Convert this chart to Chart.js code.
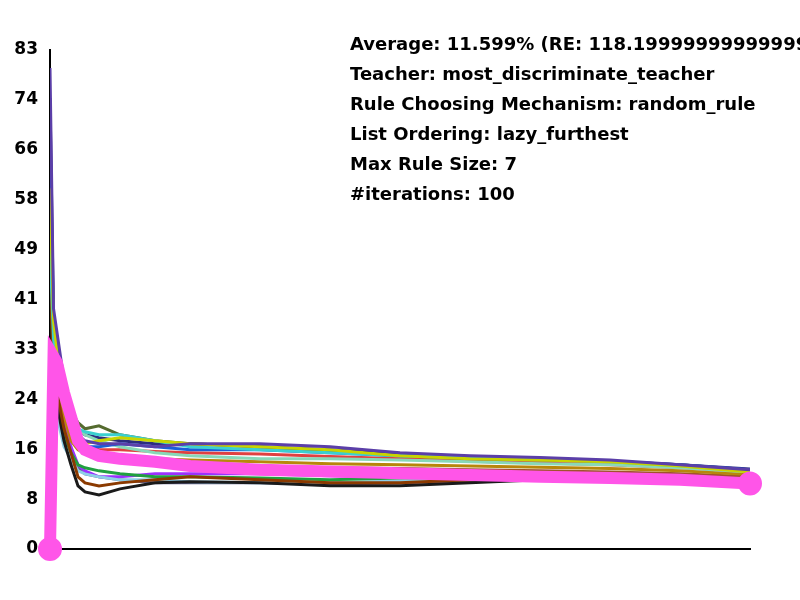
<!DOCTYPE html><html><head><meta charset="utf-8">
<script src="https://cdn.jsdelivr.net/npm/chart.js@4/dist/chart.umd.min.js"></script>
<style>body{margin:0;background:#fff}#w{position:relative;width:800px;height:600px;overflow:hidden}
.t{position:absolute;left:350px;font:bold 18px "DejaVu Sans";white-space:nowrap;color:#000}</style></head><body>
<div id="w"><canvas id="c" width="800" height="600"></canvas>
<div class="t" style="top:33px">Average: 11.599% (RE: 118.19999999999999)</div>
<div class="t" style="top:63px">Teacher: most_discriminate_teacher</div>
<div class="t" style="top:93px">Rule Choosing Mechanism: random_rule</div>
<div class="t" style="top:123px">List Ordering: lazy_furthest</div>
<div class="t" style="top:153px">Max Rule Size: 7</div>
<div class="t" style="top:183px">#iterations: 100</div></div>
<script>
const xs = [0, 0.5, 1, 2, 3, 4, 5, 7, 10, 15, 20, 30, 40, 50, 60, 70, 80, 90, 100];
const tickLabels = ['0','8','16','24','33','41','49','58','66','74','83'];
const sA=[80,40,36,28,22,19,18,17.5,17.5,17,17.5,17.5,17,16,15.5,15.2,14.8,14,13.2];
const sB=[60,38,33,27,21,18,17.5,18,18.5,18,17.5,17,16.5,15.5,15,14.8,14.5,13.8,12.8];
const sC=[50,35,30,24,20,20,19.5,19,19,18,17,16.5,16,15.5,15.2,15,14.5,13.8,13];
const sD=[45,30,26,20,16,12,11,10.5,11,11.5,12,11.5,11,11,11.5,12,12,11.5,11];
const sE=[40,28,24,18,14,10.5,9.5,9,10,11,11.2,11,10.5,10.5,11,11.5,11.5,11.2,10.8];
const sF=[70,36,32,26,21,18,17,17,17.5,17,16.5,16.5,16,15.5,15.2,15,14.6,14,13.2];
const sG=[55,34,30,25,22,20,19,18,17,16,15.5,15,15,14.8,14.5,14.2,14,13.5,12.8];
const sH=[35,28,24,19,16,14,13.5,13,12.5,12,12,11.8,11.5,11.8,12,12,11.8,11.5,11];
const sI=[65,37,33,27,23,21,20,20.5,19,18,17.5,17,16.2,15.5,15,14.8,14.5,14,13.1];
const sJ=[30,26,22,17,15,13,12.5,12,11.5,11.5,11.2,11,11,11.3,11.6,11.8,11.7,11.4,11];
const sK=[48,33,29,22,18,16.5,16,15.5,15.5,15,14.8,14.5,14.2,14,13.8,13.6,13.4,13,12.4];
const sL=[58,36,31,25,20,18,17,16.5,16.5,16.2,16,15.8,15.4,15,14.6,14.3,14,13.5,12.8];
const sM=[42,30,27,21,17,14,13,12,12,12.5,12.5,12.5,12.2,12,12,12,11.8,11.5,11];
const sN=[75,38,34,27,23,20,19,18.5,18,17.5,17.5,17,16.5,15.8,15.3,15,14.6,14,13.3];
const sO=[38,29,26,20,16,13.5,12.5,12,11.5,11,11,11,10.8,11,11.3,11.6,11.6,11.3,10.9];
const sP=[52,34,30,24,20,17,16,15,14.5,14.2,14,13.8,13.5,13.4,13.2,13,12.8,12.5,12];
const avg=[0,32,31,26,22,18,16.5,15.5,15,14.5,13.8,13.2,12.9,12.6,12.3,12,11.8,11.5,10.9];
const series=[sA,sB,sC,sD,sE,sF,sG,sH,sI,sJ,sK,sL,sM,sN,sO,sP];
const colors=['#5b3fa8','#c8d400','#3ad0d0','#8b3a00','#1a1a1a','#1a5fd8','#88d8b8','#20a040','#556b2f','#8ecfe8','#b8860b','#e04040','#9b30ff','#2c2c80','#606090','#a0522d'];
const ds=[{data:avg.map((v,j)=>({x:xs[j],y:v})),borderColor:'#ff55e8',backgroundColor:'#ff55e8',borderWidth:12,clip:false,pointRadius:c=>(c.dataIndex===0||c.dataIndex===avg.length-1)?6:0,tension:0}];
series.forEach((s,i)=>ds.push({data:s.map((v,j)=>({x:xs[j],y:v})),borderColor:colors[i],backgroundColor:colors[i],borderWidth:3,pointRadius:0,tension:0}));
new Chart(document.getElementById('c'),{type:'line',data:{datasets:ds},options:{responsive:false,animation:false,
layout:{padding:{left:0,right:50,top:50,bottom:51}},
plugins:{legend:{display:false},tooltip:{enabled:false}},
scales:{x:{type:'linear',min:0,max:100,grid:{display:false,drawTicks:false},border:{color:'#000',width:2},ticks:{display:false}},
y:{min:0,max:83,afterFit:a=>{a.width=50},afterBuildTicks:a=>{a.ticks=tickLabels.map((t,i)=>({value:i*8.3}))},
grid:{display:false},border:{color:'#000',width:2},
ticks:{color:'#000',font:{family:'DejaVu Sans',weight:'bold',size:17},padding:4,callback:(v,i)=>tickLabels[i]}}}}});
</script></body></html>
